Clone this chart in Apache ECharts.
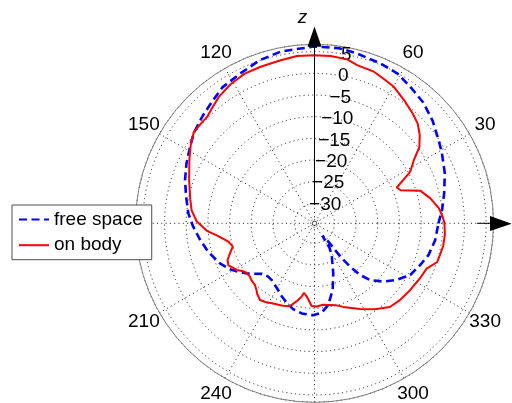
<!DOCTYPE html>
<html>
<head>
<meta charset="utf-8">
<script src="https://cdn.jsdelivr.net/npm/echarts@6/dist/echarts.min.js"></script>
<style>
  html, body { margin: 0; padding: 0; background: #ffffff; }
  #chart { width: 512px; height: 403px; }
</style>
</head>
<body>
<div id="chart"></div>
<script>
// Radiation pattern (dB) versus angle (degrees)
const seriesNames = ['free space', 'on body'];

const freeAngle = [0, 6, 13, 21, 29, 34, 41, 48, 55, 61, 67.5, 76, 82, 90, 101, 108.5, 116, 124, 129.5, 136,
  143, 148, 155, 161.5, 168, 175.5, 181.6, 188, 195, 203, 208.6, 212, 216, 220, 224, 229, 233, 240, 246, 251,
  256, 262, 269, 274.6, 279.6, 285.3, 290.6, 298.5, 301.5, 302.5, 305, 307, 307.5, 308, 309.4, 311.4, 314.4,
  319.7, 325.4, 331.6, 338.4, 344.4, 352, 360];
const freeDb = [-6.0, -5.0, -3.9, -2.4, -1.0, -0.1, 1.5, 2.9, 3.9, 4.9, 5.3, 5.8, 6.2, 6.2, 5.8, 5.1, 4.0, 3.3, 2.2, 1.2,
  0.2, -0.8, -2.0, -3.1, -4.3, -5.4, -6.6, -7.9, -9.2, -10.9, -12.4, -13.6, -15.0, -16.5, -17.8, -18.3, -18.2, -17.3, -16.1, -15.1,
  -14.2, -13.6, -13.4, -13.9, -15.5, -18.7, -22.3, -26.3, -28.0, -31.2, -30.5, -29.3, -26.8, -24.4, -21.7, -18.7, -16.3,
  -13.8, -11.6, -9.5, -8.4, -7.3, -6.5, -6.0];

const bodyAngle = [0, 3, 7, 12, 17, 21, 23.5, 27.9, 29, 32.5, 36, 40, 44, 48, 54, 60, 64, 68.6, 74.9, 78.7,
  84.5, 90, 96, 102, 109, 115, 121, 127, 132, 135, 139.5, 143, 148, 153, 161, 169, 174, 179, 184, 187,
  192, 196, 199.5, 203, 206, 211, 214, 216, 219.6, 222, 226, 229, 231, 234.6, 238, 242, 249, 253.5, 257, 260,
  261.4, 264, 268, 271.5, 276, 280.7, 285, 289, 298, 305, 312, 318, 325, 332.5, 338, 342.5, 346, 350, 355, 360];
const bodyDb = [-4.6, -5.0, -5.7, -7.2, -9.0, -13.3, -13.9, -9.9, -9.2, -7.4, -4.7, -2.9, -1.5, -0.65, 0.55, 1.85, 2.3, 2.97, 3.2, 3.97,
  4.17, 4.2, 4.2, 3.8, 3.6, 3.5, 2.9, 2.0, 0.9, 0.3, 0.3, 0.3, -0.9, -2.2, -4.0, -5.4, -6.1, -7.4, -9.7, -11.9,
  -14.3, -15.0, -13.9, -12.8, -12.5, -13.7, -14.8, -15.2, -15.3, -15.0, -14.8, -14.2, -13.6, -12.9, -13.2, -13.7, -14.2, -14.7, -16.1, -17.4,
  -18.4, -17.6, -15.5, -15.4, -15.7, -15.4, -15.0, -14.2, -12.2, -10.4, -8.6, -8.1, -7.7, -7.15, -6.7, -4.9, -4.75, -4.45, -4.4, -4.6];

// Angle labels shown round the rim (0/90/180/270 are left to the arrows and legend)
const angleLabels = [30, 60, 120, 150, 210, 240, 300, 330];
// Radial scale (dB) at centre and at rim
const dbMin = -34.6;
const dbMax = 6.7;

const FONT = '"Liberation Sans", Arial, Helvetica, sans-serif';
const CX = 314.5, CY = 223.3, R = 179;
const LABEL_R = 197;          // angle labels are centred on this radius (px)
const dotted = { color: '#1a1a1a', width: 1, type: [1, 3.3] };

const toPolar = (angles, values) => angles.map((a, i) => [values[i], a]);
const minus = v => (v < 0 ? '\u2212' + Math.abs(v) : String(v));

// angle labels, centred outside the rim
const angleLabelGraphics = angleLabels.map(a => {
  const t = a * Math.PI / 180;
  return {
    type: 'text', z: 5,
    x: CX + LABEL_R * Math.cos(t),
    y: CY - LABEL_R * Math.sin(t),
    style: { text: String(a), font: '19px ' + FONT, fill: '#000', align: 'center', verticalAlign: 'middle' }
  };
});

const chart = echarts.init(document.getElementById('chart'), null, { renderer: 'canvas' });

chart.setOption({
  animation: false,
  backgroundColor: '#ffffff',
  polar: [
    { center: [CX, CY], radius: R },
    { center: [CX, CY], radius: R }
  ],
  angleAxis: [
    {
      polarIndex: 0, type: 'value', min: 0, max: 360, interval: 30,
      startAngle: 0, clockwise: false,
      axisLine: { show: true, lineStyle: { color: '#808080', width: 1 } },
      axisTick: { show: false },
      axisLabel: { show: false },
      splitLine: { show: true, lineStyle: dotted }
    },
    {
      polarIndex: 1, type: 'value', min: 0, max: 360,
      startAngle: 82, clockwise: false,
      axisLine: { show: false }, axisTick: { show: false },
      axisLabel: { show: false }, splitLine: { show: false }
    }
  ],
  radiusAxis: [
    {
      polarIndex: 0, type: 'value', min: dbMin, max: dbMax, splitNumber: 8,
      axisLine: { show: false }, axisTick: { show: false }, axisLabel: { show: false },
      splitLine: { show: true, lineStyle: dotted }
    },
    {
      polarIndex: 1, type: 'value', min: dbMin, max: dbMax, splitNumber: 8,
      axisLine: { show: false }, axisTick: { show: false }, splitLine: { show: false },
      axisLabel: {
        show: true, margin: -8, align: 'center', verticalAlign: 'middle',
        padding: [3, 0, 0, 0],
        fontSize: 19, color: '#000', fontFamily: FONT,
        showMinLabel: false, showMaxLabel: false,
        formatter: v => (Math.abs(v % 5) < 1e-6 ? minus(v) : '')
      }
    }
  ],
  legend: {
    data: seriesNames,
    orient: 'vertical',
    left: 12, top: 205,
    padding: [5, 9, 5, 6],
    itemWidth: 30, itemHeight: 20, itemGap: 6.7,
    itemStyle: { opacity: 0 },
    backgroundColor: '#ffffff',
    borderColor: '#4d4d4d', borderWidth: 1, borderRadius: 0,
    textStyle: { fontSize: 19, color: '#000', fontFamily: FONT }
  },
  series: [
    {
      name: seriesNames[0], type: 'line', coordinateSystem: 'polar', polarIndex: 0,
      data: toPolar(freeAngle, freeDb), symbol: 'none', smooth: false,
      lineStyle: { color: '#0000ff', width: 2.6, type: [8, 4.5] },
      itemStyle: { color: '#0000ff' }
    },
    {
      name: seriesNames[1], type: 'line', coordinateSystem: 'polar', polarIndex: 0,
      data: toPolar(bodyAngle, bodyDb), symbol: 'none', smooth: false,
      lineStyle: { color: '#ff0000', width: 2 },
      itemStyle: { color: '#ff0000' }
    }
  ],
  graphic: [
    // small ring at the pole
    { type: 'circle', shape: { cx: CX, cy: CY, r: 4 }, style: { fill: null, stroke: '#1a1a1a', lineWidth: 1, lineDash: [1, 2] }, z: 5 },
    // z axis arrow (up)
    { type: 'line', shape: { x1: CX, y1: 205, x2: CX, y2: 46.7 }, style: { stroke: '#000', lineWidth: 1 }, z: 5 },
    { type: 'polygon', shape: { points: [[CX, 26.5], [CX - 7, 46.7], [CX + 7, 46.7]] }, style: { fill: '#000' }, z: 5 },
    // horizontal arrow (right)
    { type: 'line', shape: { x1: 477, y1: CY, x2: 490, y2: CY }, style: { stroke: '#000', lineWidth: 1 }, z: 5 },
    { type: 'polygon', shape: { points: [[490, CY - 7.3], [490, CY + 7.7], [511.7, CY + 0.5]] }, style: { fill: '#000' }, z: 5 },
    {
      type: 'text', x: 302.5, y: 18, z: 5,
      style: { text: 'z', font: 'italic 19px ' + FONT, fill: '#000', align: 'center', verticalAlign: 'middle' }
    }
  ].concat(angleLabelGraphics)
});
</script>
</body>
</html>
